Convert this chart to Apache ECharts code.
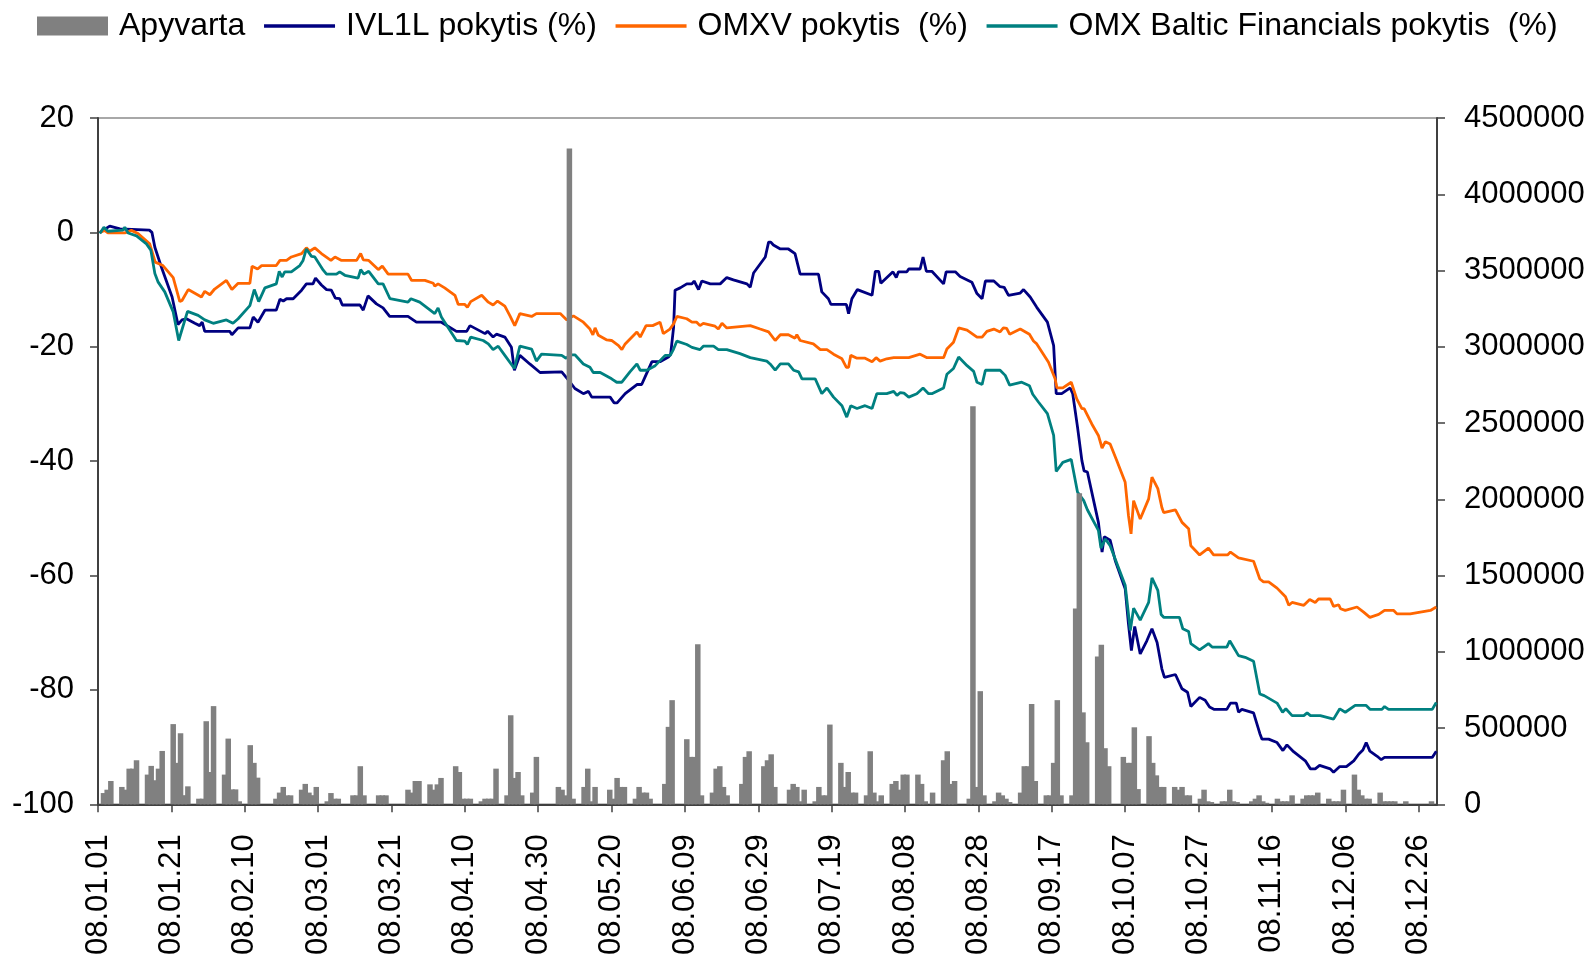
<!DOCTYPE html>
<html>
<head>
<meta charset="utf-8">
<script src="https://cdn.jsdelivr.net/npm/echarts@6/dist/echarts.min.js"></script>
<style>
html,body{margin:0;padding:0;background:#fff;}
#chart{width:1594px;height:958px;}
</style>
</head>
<body>
<div id="chart"></div>
<script>
// x tick labels (every 20 calendar days, day index 0 = 2008-01-01)
const tickLabels = ['08.01.01','08.01.21','08.02.10','08.03.01','08.03.21','08.04.10','08.04.30','08.05.20','08.06.09','08.06.29','08.07.19','08.08.08','08.08.28','08.09.17','08.10.07','08.10.27','08.11.16','08.12.06','08.12.26'];

const seriesNames = ['Apyvarta','IVL1L pokytis (%)','OMXV pokytis  (%)','OMX Baltic Financials pokytis  (%)'];

// [day index, % change]
const ivl1l = [[0.5,0],[3.2,1.1],[6,0.6],[14,0.4],[14.7,0],[15.5,-2.6],[17.3,-6.1],[20.2,-11.3],[21.8,-16.1],[22.9,-15.3],[24.1,-15.1],[26.4,-15.9],[27.7,-16.3],[28.4,-15.7],[29.1,-17.3],[35.9,-17.3],[36.5,-17.9],[38.2,-16.7],[41.4,-16.7],[42.3,-14.8],[43.6,-15.7],[45.5,-13.6],[48.6,-13.6],[49.6,-11.7],[50.5,-12.0],[51.4,-11.6],[53.2,-11.6],[55.5,-10.1],[56.8,-9.0],[58.6,-9.0],[59.3,-8.0],[60.9,-9.2],[62.3,-10.0],[63.6,-10.1],[64.7,-11.5],[65.9,-11.6],[66.6,-12.7],[71.4,-12.7],[72.3,-13.6],[73.6,-11.1],[75.9,-12.5],[77.7,-13.2],[79.5,-14.7],[84.5,-14.7],[86.8,-15.7],[93.6,-15.7],[97.7,-17.3],[100.5,-17.3],[101.4,-16.3],[105.5,-17.7],[106.2,-17.3],[107.7,-18.3],[108.6,-17.8],[110.9,-18.3],[112.7,-20.1],[113.5,-24.1],[115,-21.5],[117.7,-23.0],[120.5,-24.5],[126.4,-24.4],[128.7,-26.2],[130,-27.3],[132.3,-28.2],[133.7,-27.8],[134.6,-28.8],[139.6,-28.8],[140.7,-29.8],[141.5,-29.8],[143.7,-28.2],[146.9,-26.6],[148.2,-26.6],[149.1,-25.3],[151,-22.6],[153.2,-22.6],[155.5,-21.8],[156.1,-21.3],[156.9,-16.6],[157.3,-10.1],[158.7,-9.7],[160.5,-9.0],[161.9,-9.0],[162.5,-8.5],[163.7,-10.0],[164.6,-8.5],[166.9,-9.0],[169.6,-9.0],[171.4,-7.9],[173.2,-8.3],[176.9,-9.0],[177.8,-9.6],[178.7,-7.1],[181.9,-4.3],[182.8,-1.7],[183.4,-1.7],[184.1,-2.2],[186,-2.9],[188.2,-2.9],[190,-3.7],[191.4,-7.3],[196.4,-7.3],[197.3,-10.4],[199.1,-11.6],[199.8,-12.6],[204,-12.6],[204.6,-14.2],[205.5,-11.6],[207,-10.0],[211,-11.0],[211.9,-6.8],[212.8,-6.8],[213.4,-8.9],[216.7,-6.9],[217.6,-7.9],[218.2,-6.9],[220.5,-6.9],[221,-6.4],[224.1,-6.4],[224.9,-4.3],[225.8,-6.8],[227.3,-6.8],[230.5,-9.0],[231.2,-6.9],[233.7,-6.9],[235,-7.7],[238.2,-8.7],[239.6,-10.7],[241,-11.6],[241.9,-8.5],[244.2,-8.5],[245.9,-9.5],[247,-9.6],[248.2,-11.0],[251.4,-10.6],[252.3,-10.0],[254.1,-11.3],[255.9,-13.1],[258.8,-15.7],[260.5,-19.8],[261.2,-28.2],[262.7,-28.2],[265,-27.2],[265.7,-28.2],[267,-34.0],[268.2,-39.9],[268.8,-41.7],[269.7,-41.9],[271.4,-46.9],[272.7,-50.7],[273.7,-55.9],[274.3,-53.2],[275.9,-53.8],[277.3,-57.4],[280,-62.3],[280.9,-68.5],[281.7,-73.1],[282.6,-68.9],[284.1,-73.7],[285.9,-71.4],[287.3,-69.3],[288.7,-71.7],[290,-76.3],[290.7,-77.8],[293.7,-77.3],[295.5,-79.8],[297,-80.4],[297.9,-82.9],[300.3,-81.3],[301.8,-81.8],[303,-83.0],[304.3,-83.4],[307.7,-83.4],[308.7,-82.3],[310.3,-82.3],[310.9,-83.9],[311.8,-83.4],[315,-84.0],[316.7,-87.6],[317.3,-88.6],[319.1,-88.6],[321.4,-89.2],[323,-90.6],[324.1,-89.6],[325.9,-90.8],[329.1,-92.4],[330.5,-93.8],[331.8,-93.8],[333,-93.2],[335.9,-93.8],[336.8,-94.4],[338.5,-93.4],[340.3,-93.4],[342.3,-92.4],[343.7,-91.2],[344.8,-90.5],[345.7,-89.2],[346.7,-90.7],[348.7,-91.6],[349.8,-92.2],[350.7,-91.8],[363.7,-91.8],[364.8,-90.7]];

const omxv = [[0.5,0],[1.8,0.35],[2.7,-0.1],[7.3,-0.1],[9.1,0.35],[10.9,-0.2],[14.1,-2.0],[15.6,-5.2],[17.7,-5.8],[20.5,-7.9],[22.3,-12.1],[22.9,-11.9],[24.6,-10.0],[28.2,-11.3],[29.1,-10.3],[30.5,-10.9],[31.8,-9.9],[35,-8.4],[36.5,-10.0],[38.2,-8.9],[41.4,-8.9],[42,-5.9],[43.5,-6.4],[44.6,-5.8],[48.6,-5.8],[49.6,-4.9],[51.4,-4.9],[52.7,-4.3],[55.5,-3.7],[56.8,-2.7],[57.7,-3.3],[59.1,-2.7],[60.9,-3.7],[63.5,-4.9],[64.6,-4.3],[66.4,-4.9],[70.5,-4.9],[71.6,-3.7],[72.3,-4.8],[73.8,-4.9],[76.4,-6.5],[77.5,-5.9],[79.1,-7.3],[84.5,-7.3],[85.5,-8.4],[89.1,-8.4],[91.4,-8.9],[91.8,-9.4],[92.7,-9.0],[94.5,-9.7],[97.3,-11.0],[98.2,-12.6],[100,-12.6],[100.7,-13.1],[101.6,-12.1],[104.6,-11.0],[106.4,-12.2],[107.7,-12.7],[108.9,-12.0],[110.9,-12.9],[112.3,-14.6],[113.6,-16.3],[115,-14.2],[118.2,-14.7],[119.5,-14.2],[126,-14.2],[127.8,-15.3],[129.6,-14.6],[132.3,-15.7],[134.1,-16.9],[134.9,-17.9],[135.5,-16.7],[136.4,-18.0],[138.7,-18.8],[140,-18.9],[141.9,-19.8],[142.8,-20.5],[143.7,-19.5],[146.9,-17.4],[147.8,-18.3],[149.4,-16.3],[151.2,-16.3],[153.2,-15.7],[154.1,-17.7],[155.9,-16.9],[156.9,-16.0],[157.8,-14.7],[160.5,-15.1],[161.9,-15.7],[163.2,-15.7],[164.1,-16.3],[165,-15.9],[168.2,-16.4],[169.1,-16.9],[170.1,-15.9],[171.4,-16.7],[177.8,-16.3],[180.5,-16.9],[182.8,-17.4],[184.6,-18.9],[186,-17.9],[188.2,-17.9],[190,-18.5],[190.5,-17.9],[191.4,-18.9],[195,-19.5],[196.9,-20.5],[198.7,-20.5],[200.5,-21.3],[202.8,-22.1],[204,-23.6],[204.6,-23.6],[205.2,-21.5],[206.9,-22.0],[209.1,-22.0],[211,-22.6],[212.1,-21.9],[213.2,-22.5],[215,-22.1],[216.9,-21.9],[221,-21.9],[224.1,-21.3],[226,-21.9],[230.5,-21.9],[231.4,-20.4],[233.2,-19.2],[234.6,-16.7],[236.9,-17.1],[239.6,-18.3],[241,-18.3],[242.3,-17.3],[244.2,-16.9],[245.9,-17.4],[246.8,-16.7],[247.7,-16.8],[248.5,-17.8],[251.4,-16.9],[253.9,-17.8],[255,-19.0],[255.9,-19.5],[259.1,-22.7],[260.9,-25.6],[261.4,-27.2],[263,-27.2],[265.3,-26.2],[266.8,-29.1],[268.2,-30.8],[268.8,-30.8],[270.9,-33.5],[272.7,-35.5],[273.7,-37.7],[274.6,-36.6],[275.9,-37.0],[277.7,-39.9],[280,-43.7],[280.9,-49.5],[281.6,-52.7],[282.3,-46.9],[284.1,-50.1],[286.4,-46.6],[287.3,-42.8],[288.9,-44.8],[290,-48.1],[290.5,-49.0],[293.7,-48.5],[295.5,-50.7],[297.3,-51.8],[297.9,-54.8],[300.3,-56.4],[302.7,-55.2],[304.1,-56.4],[307.9,-56.4],[308.7,-55.9],[310.9,-56.9],[315,-57.5],[316.7,-60.6],[317.7,-61.1],[319.1,-61.1],[321.4,-62.2],[323.7,-63.7],[324.6,-65.2],[325.5,-64.7],[328.7,-65.2],[330.3,-64.2],[331.8,-64.7],[332.7,-64.1],[335.9,-64.1],[336.8,-65.4],[338.2,-65.1],[338.7,-65.8],[340,-66.1],[343.2,-65.5],[345,-66.4],[346.7,-67.3],[349.1,-66.8],[350.7,-66.1],[353.2,-66.1],[354.1,-66.7],[357.7,-66.7],[363.2,-66.1],[364.8,-65.5]];

const omxBalticFin = [[0.5,-0.2],[1.6,0.9],[2.7,0.2],[6.8,0.4],[7.3,0.9],[8.2,-0.1],[10.5,-0.6],[13.2,-2.0],[14.4,-3.1],[15.5,-7.2],[16.4,-8.7],[18.2,-10.4],[20.5,-13.9],[22,-18.9],[24.4,-13.8],[27.3,-14.5],[29.1,-15.3],[31.4,-15.9],[35,-15.3],[36.8,-15.9],[38.2,-15.1],[41.4,-12.8],[42.6,-10.0],[43.8,-12.1],[45.5,-9.7],[48.6,-9.0],[49.4,-6.8],[50.2,-7.8],[50.9,-6.9],[52.7,-6.9],[55,-5.8],[55.9,-4.9],[56.8,-2.9],[58.2,-4.2],[59.1,-4.3],[61.4,-6.6],[62.3,-7.3],[65,-7.3],[65.9,-6.9],[67.3,-7.5],[70.9,-8.0],[71.6,-6.5],[72.5,-7.3],[73.8,-6.8],[76.4,-9.0],[77.7,-9.0],[79.6,-11.6],[84.5,-12.2],[85.3,-11.6],[87.7,-12.2],[91.8,-14.2],[92.7,-13.2],[93.6,-14.8],[97.7,-18.9],[100,-19.0],[100.7,-19.6],[101.6,-18.3],[105,-18.9],[106.4,-19.5],[107.7,-20.5],[109.1,-19.9],[110.9,-21.5],[113.5,-23.8],[115,-19.9],[118.2,-20.4],[119.5,-22.5],[120.9,-21.3],[126.4,-21.5],[127.6,-22.0],[128.7,-21.4],[130,-21.4],[132.3,-23.0],[134.1,-23.6],[135,-24.5],[136.9,-24.5],[140,-25.6],[141.4,-26.2],[142.8,-26.2],[145,-24.4],[146.9,-23.0],[147.8,-24.1],[149.6,-24.1],[151.9,-23.3],[154.6,-21.5],[156,-21.5],[156.9,-20.4],[157.8,-19.0],[160.5,-19.6],[161.9,-20.1],[164.1,-20.5],[165,-19.9],[167.8,-19.9],[169.1,-20.5],[171.4,-20.5],[175,-21.2],[177.8,-21.9],[182.3,-22.5],[183.2,-23.0],[184.6,-24.1],[186,-23.0],[188.2,-23.0],[189.6,-24.1],[191,-24.4],[191.9,-25.6],[195.5,-25.6],[197.3,-28.2],[198.7,-27.2],[200.5,-28.8],[202.8,-30.3],[204.1,-32.3],[205.2,-30.3],[206.9,-30.8],[209.1,-30.3],[211,-30.8],[212.3,-28.2],[215,-28.2],[216.9,-27.8],[217.8,-28.5],[218.7,-28.0],[219.7,-28.1],[221,-28.8],[223.2,-28.2],[224.9,-27.2],[226.4,-28.2],[227.3,-28.2],[230.5,-27.2],[231.4,-24.8],[233.2,-23.8],[234.6,-21.8],[236.9,-23.3],[238.7,-24.3],[239.6,-26.2],[241,-26.6],[241.9,-24.1],[245.9,-24.1],[247.3,-25.0],[248.5,-26.7],[251.8,-26.2],[253.9,-26.8],[254.8,-28.3],[256.4,-29.7],[258.8,-31.7],[260.5,-35.5],[261.2,-41.8],[263,-40.2],[265.3,-39.7],[267,-45.4],[268.7,-46.9],[269.7,-48.5],[272.7,-52.1],[273.4,-55.2],[274.6,-53.6],[275.9,-54.8],[280,-61.7],[281.4,-69.6],[282.3,-65.7],[284.1,-67.8],[286.4,-64.7],[287.3,-60.4],[288.9,-62.6],[289.8,-66.8],[290.5,-67.3],[294.8,-67.3],[295.7,-69.3],[297.3,-69.8],[297.9,-71.9],[300.3,-73.0],[302.7,-71.9],[303.7,-72.5],[307.7,-72.5],[308.5,-71.4],[310.9,-74.0],[312.7,-74.3],[315,-75.0],[316.7,-80.7],[317.9,-81.0],[321.4,-82.3],[322.9,-83.9],[323.8,-83.3],[325.5,-84.5],[328.7,-84.5],[329.6,-84.0],[330.5,-84.5],[333.2,-84.5],[336.8,-85.1],[338.5,-83.3],[340,-83.9],[342.7,-82.7],[345.7,-82.7],[346.8,-83.4],[350,-83.4],[350.7,-82.9],[351.8,-83.4],[363.7,-83.4],[364.8,-82.2]];

// [trading day index, turnover]
const apyvarta = [[1,74000],[2,96000],[3,153000],[6,114000],[7,96000],[8,234000],[9,234000],[10,289000],[13,195000],[14,252000],[15,158000],[16,234000],[17,350000],[20,526000],[21,272000],[22,466000],[23,60000],[24,118000],[27,37000],[28,37000],[29,545000],[30,212000],[31,644000],
[34,195000],[35,431000],[36,98000],[37,98000],[38,20000],[41,388000],[42,272000],[43,175000],[48,37000],[49,77000],[50,114000],[51,59000],[52,59000],[55,96000],[56,134000],[57,77000],[58,60000],[59,114000],
[62,20000],[63,74000],[64,37000],[65,37000],[69,59000],[70,59000],[71,250000],[72,59000],[76,59000],[77,59000],[78,59000],[84,96000],[85,77000],[86,153000],[87,153000],[90,131000],[91,96000],[92,131000],[93,173000],
[97,250000],[98,212000],[99,37000],[100,37000],[101,37000],[104,20000],[105,37000],[106,37000],[107,37000],[108,234000],[111,59000],[112,584000],[113,173000],[114,212000],[115,59000],[118,77000],[119,311000],
[125,114000],[126,96000],[127,59000],[128,4300000],[129,37000],[132,114000],[133,234000],[134,20000],[135,114000],[139,96000],[140,37000],[141,173000],[142,114000],[143,114000],[146,37000],[147,114000],[148,77000],[149,77000],[150,37000],
[154,134000],[155,508000],[156,683000],[160,427000],[161,311000],[162,311000],[163,1050000],[164,59000],[167,77000],[168,234000],[169,250000],[170,114000],[171,59000],[175,134000],[176,311000],[177,348000],[181,250000],[182,289000],[183,328000],[184,114000],
[188,96000],[189,134000],[190,114000],[191,20000],[192,96000],[195,20000],[196,114000],[197,59000],[198,59000],[199,523000],[202,272000],[203,114000],[204,212000],[205,77000],[206,77000],[209,59000],[210,348000],[211,77000],[212,20000],[213,59000],
[216,134000],[217,153000],[218,96000],[219,195000],[220,195000],[223,195000],[224,134000],[225,20000],[227,77000],[230,289000],[231,348000],[232,134000],[233,153000],[237,37000],[238,2610000],[239,114000],[240,742000],[241,59000],[244,20000],[245,77000],[246,59000],[247,37000],[248,15000],
[251,77000],[252,250000],[253,250000],[254,658000],[255,153000],[258,59000],[259,59000],[260,272000],[261,683000],[262,59000],[265,59000],[266,1284000],[267,2040000],[268,603000],[269,407000],[272,970000],[273,1046000],[274,368000],[275,250000],
[279,311000],[280,272000],[281,272000],[282,505000],[283,100000],[286,447000],[287,272000],[288,190000],[289,114000],[290,114000],[293,114000],[294,96000],[295,114000],[296,59000],[297,59000],[300,37000],[301,96000],[302,20000],[303,15000],[306,20000],[307,20000],[308,96000],[309,20000],[310,15000],
[314,20000],[315,37000],[316,59000],[317,20000],[318,10000],[321,37000],[322,20000],[323,20000],[324,20000],[325,59000],[328,37000],[329,59000],[330,59000],[331,59000],[332,77000],
[335,37000],[336,20000],[337,20000],[338,20000],[339,96000],[342,195000],[343,96000],[344,59000],[345,37000],[346,37000],[349,77000],[350,20000],[351,20000],[352,20000],[353,20000],[356,20000],[363,20000]];

const FONT = '"Liberation Sans", Arial, Helvetica, sans-serif';
const axisColor = '#404040';

// Excel date axis draws each day's mark in the middle of its day slot
const barData = apyvarta.map(p => [p[0] + 0.5, p[1]]);

const legendLine = { itemStyle: { opacity: 0 }, lineStyle: { width: 3.5 } };

const chart = echarts.init(document.getElementById('chart'));
chart.setOption({
  animation: false,
  backgroundColor: '#ffffff',
  textStyle: { fontFamily: FONT },
  legend: {
    left: 37, top: 10, padding: 0,
    itemWidth: 71, itemHeight: 19, itemGap: 17,
    textStyle: { fontSize: 32, color: '#000', fontFamily: FONT, padding: [0, 0, 0, 6] },
    data: [
      { name: seriesNames[0], icon: 'rect' },
      Object.assign({ name: seriesNames[1] }, legendLine),
      Object.assign({ name: seriesNames[2] }, legendLine),
      Object.assign({ name: seriesNames[3] }, legendLine)
    ]
  },
  grid: {
    left: 98, right: 157, top: 118, bottom: 153,
    show: true, borderColor: '#8c8c8c', borderWidth: 1.5, backgroundColor: 'transparent'
  },
  xAxis: {
    type: 'value', min: 0, max: 365, interval: 20,
    axisLine: { show: true, onZero: false, lineStyle: { color: axisColor, width: 2 } },
    axisTick: { show: true, length: 8, lineStyle: { color: axisColor, width: 1.5 } },
    splitLine: { show: false },
    axisLabel: {
      rotate: 90, fontSize: 31, color: '#000', margin: 30, fontFamily: FONT,
      showMaxLabel: false,
      formatter: v => (v % 20 === 0 && v / 20 < tickLabels.length) ? tickLabels[v / 20] : ''
    }
  },
  yAxis: [
    {
      type: 'value', min: -100, max: 20, interval: 20, position: 'left',
      axisLine: { show: true, onZero: false, lineStyle: { color: axisColor, width: 2 } },
      axisTick: { show: true, length: 8, lineStyle: { color: axisColor, width: 1.5 } },
      splitLine: { show: false },
      axisLabel: { fontSize: 31, color: '#000', margin: 24, fontFamily: FONT }
    },
    {
      type: 'value', min: 0, max: 4500000, interval: 500000, position: 'right',
      axisLine: { show: true, onZero: false, lineStyle: { color: axisColor, width: 2 } },
      axisTick: { show: true, length: 8, lineStyle: { color: axisColor, width: 1.5 } },
      splitLine: { show: false },
      axisLabel: { fontSize: 31, color: '#000', margin: 27, fontFamily: FONT, formatter: v => String(v) }
    }
  ],
  series: [
    {
      name: seriesNames[1], type: 'line', yAxisIndex: 0, data: ivl1l,
      symbol: 'none', lineStyle: { color: '#000080', width: 2.8 }, itemStyle: { color: '#000080' }, z: 2
    },
    {
      name: seriesNames[2], type: 'line', yAxisIndex: 0, data: omxv,
      symbol: 'none', lineStyle: { color: '#FF6600', width: 2.8 }, itemStyle: { color: '#FF6600' }, z: 2
    },
    {
      name: seriesNames[3], type: 'line', yAxisIndex: 0, data: omxBalticFin,
      symbol: 'none', lineStyle: { color: '#008080', width: 2.8 }, itemStyle: { color: '#008080' }, z: 2
    },
    {
      name: seriesNames[0], type: 'bar', yAxisIndex: 1, data: barData,
      barWidth: 5.5, itemStyle: { color: '#808080' }, z: 3
    }
  ]
});
</script>
</body>
</html>
